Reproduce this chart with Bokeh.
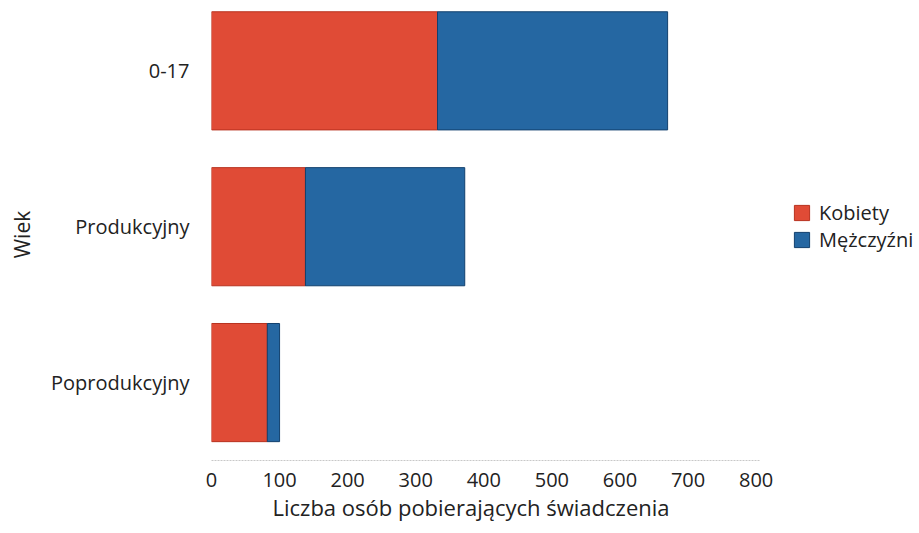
from bokeh.plotting import figure
from bokeh.models import Range1d, FixedTicker, Legend, LegendItem, ColumnDataSource, Title
from bokeh.embed import file_html
from bokeh.resources import INLINE

categories = ["Poprodukcyjny", "Produkcyjny", "0-17"]
kobiety = [82, 138, 332]
mezczyzni = [18, 234, 338]
x_ticks = [0, 100, 200, 300, 400, 500, 600, 700, 800]
series_names = ["Kobiety", "Mężczyźni"]
x_title = "Liczba osób pobierających świadczenia"
y_title = "Wiek"

FONT = "Open Sans"
RED = "#E04B36"
BLUE = "#2567A2"

pos = list(range(len(categories)))
left_m = [k for k in kobiety]
right_m = [k + m for k, m in zip(kobiety, mezczyzni)]

src = ColumnDataSource(dict(y=pos, k0=[0] * len(pos), k1=left_m, m0=left_m, m1=right_m))

p = figure(width=919, height=533, output_backend="svg", toolbar_location=None,
           x_range=Range1d(0, 1040), y_range=Range1d(-0.5, 2.40),
           min_border_top=8, min_border_left=211, min_border_right=0,
           min_border_bottom=73)

r1 = p.hbar(y="y", left="k0", right="k1", height=0.758, source=src,
            fill_color=RED, line_color="#B8321F", line_width=1)
r2 = p.hbar(y="y", left="m0", right="m1", height=0.758, source=src,
            fill_color=BLUE, line_color="#12406E", line_width=1)

p.outline_line_color = None
p.grid.visible = False
p.background_fill_color = "white"
p.border_fill_color = "white"

xa = p.xaxis[0]
xa.ticker = FixedTicker(ticks=x_ticks)
xa.bounds = (0, 806)
xa.axis_line_color = "#C8C8C8"
xa.axis_line_dash = "2 1"
xa.axis_line_width = 1
xa.major_tick_line_color = None
xa.minor_tick_line_color = None
xa.major_tick_in = 0
xa.major_tick_out = 0
xa.major_label_text_font = FONT
xa.major_label_text_font_size = "20px"
xa.major_label_text_color = "#222222"
xa.major_label_standoff = 12

t = Title(text=x_title, align="left", offset=61, standoff=0,
          text_font=FONT, text_font_size="22px", text_font_style="normal",
          text_color="#222222")
p.add_layout(t, "below")

ya = p.yaxis[0]
ya.ticker = FixedTicker(ticks=pos)
ya.major_label_overrides = {i: c for i, c in zip(pos, categories)}
ya.axis_line_color = None
ya.major_tick_line_color = None
ya.minor_tick_line_color = None
ya.major_tick_in = 0
ya.major_tick_out = 0
ya.major_label_text_font = FONT
ya.major_label_text_font_size = "20px"
ya.major_label_text_color = "#222222"
ya.major_label_standoff = 22
ya.axis_label = y_title
ya.axis_label_text_font = FONT
ya.axis_label_text_font_size = "21px"
ya.axis_label_text_font_style = "normal"
ya.axis_label_text_color = "#222222"
ya.axis_label_standoff = 12


def make_legend(label, renderer, loc):
    lg = Legend(items=[LegendItem(label=label, renderers=[renderer])],
                location=loc, orientation="vertical")
    lg.padding = 0
    lg.margin = 0
    lg.spacing = 0
    lg.glyph_width = 19
    lg.glyph_height = 19
    lg.label_standoff = 8
    lg.label_text_font = FONT
    lg.label_text_font_size = "20px"
    lg.label_text_color = "#222222"
    lg.label_height = 19
    lg.border_line_color = None
    lg.background_fill_alpha = 0
    return lg


p.add_layout(make_legend(series_names[0], r1, (581, 234)), "center")
p.add_layout(make_legend(series_names[1], r2, (581, 207)), "center")

open("out.html", "w").write(file_html(p, INLINE))
